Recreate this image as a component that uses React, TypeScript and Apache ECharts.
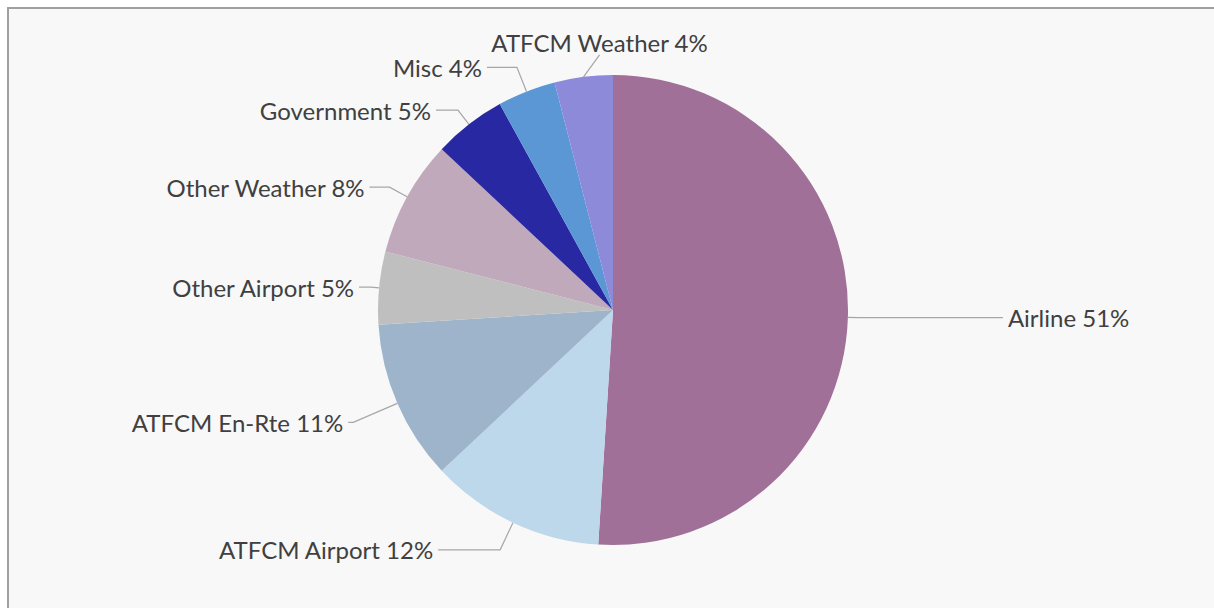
import React, { useEffect, useRef } from "react";
import * as echarts from "echarts";

const categories = [
  "Airline",
  "ATFCM Airport",
  "ATFCM En-Rte",
  "Other Airport",
  "Other Weather",
  "Government",
  "Misc",
  "ATFCM Weather",
];
const shares = [51, 12, 11, 5, 8, 5, 4, 4];
const colors = [
  "#A07098",
  "#BDD7EB",
  "#9EB4CB",
  "#BFBFBF",
  "#C1A9BC",
  "#2828A2",
  "#5B96D5",
  "#8D8AD9",
];
const lineLen = [10, 30, 48, 8, 20, 18, 26, 20];
const lineLen2 = [145, 62, 5, 12, 20, 22, 30, 0];

export default function App() {
  const ref = useRef<HTMLDivElement>(null);
  useEffect(() => {
    if (!ref.current) return;
    const chart = echarts.init(ref.current, undefined, { renderer: "svg" });
    chart.setOption({
      animation: false,
      backgroundColor: "#F8F8F8",
      series: [
        {
          type: "pie",
          center: [604, 301],
          radius: 235,
          startAngle: 90,
          clockwise: true,
          avoidLabelOverlap: false,
          itemStyle: { borderWidth: 0 },
          label: {
            show: true,
            position: "outside",
            color: "#404040",
            fontFamily: "Lato",
            fontSize: 24,
            formatter: (p: any) => `${p.name} ${p.value}%`,
          },
          labelLine: {
            show: true,
            lineStyle: { color: "#A6A6A6", width: 1.2 },
          },
          labelLayout: (p: any) => {
            if (p.dataIndex === 7 && p.labelLinePoints) {
              const pt = p.labelLinePoints[0];
              return {
                x: pt[0] + 16,
                y: pt[1] - 22,
                align: "center",
                verticalAlign: "bottom",
              };
            }
            return {};
          },
          data: categories.map((name, i) => ({
            name,
            value: shares[i],
            itemStyle: { color: colors[i] },
            labelLine: { length: lineLen[i], length2: lineLen2[i] },
          })),
        },
      ],
    });
    return () => chart.dispose();
  }, []);
  return (
    <div
      style={{
        position: "absolute",
        left: 7,
        top: 7,
        width: 1207,
        height: 601,
        boxSizing: "border-box",
        borderTop: "2px solid #A0A0A0",
        borderLeft: "2px solid #A0A0A0",
        background: "#F8F8F8",
      }}
    >
      <div ref={ref} style={{ width: "100%", height: "100%" }} />
    </div>
  );
}
